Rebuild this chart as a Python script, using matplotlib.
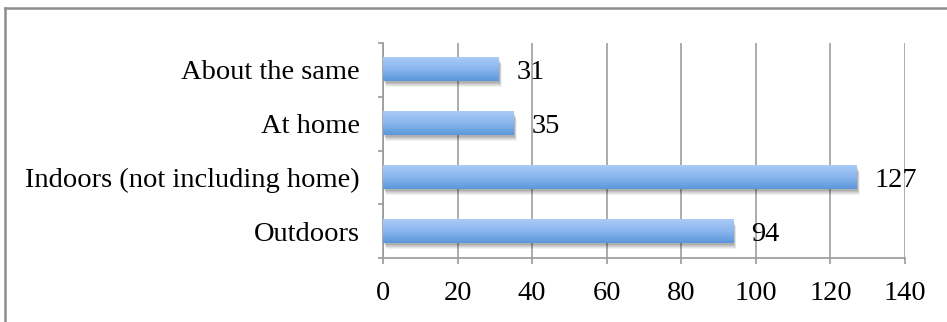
import numpy as np
import matplotlib
matplotlib.use("Agg")
from matplotlib import pyplot as plt
from matplotlib import transforms
from matplotlib.colors import LinearSegmentedColormap
from matplotlib.patches import Rectangle

# data (bottom to top)
categories = ["Outdoors", "Indoors (not including home)", "At home", "About the same"]
values = [94, 127, 35, 31]
xticks = [0, 20, 40, 60, 80, 100, 120, 140]

plt.rcParams['font.family'] = ['Liberation Serif']
FS = 20.5

W, H = 947, 322
fig = plt.figure(figsize=(W / 100, H / 100), dpi=100)
ax = fig.add_axes([383 / W, 1 - 258 / H, (905 - 383) / W, (258 - 43) / H])

bar_h = 0.43
ypos = np.arange(len(categories))
grad = LinearSegmentedColormap.from_list("barblue", ["#a9cbf6", "#8ab6ee", "#5b97da"])
gimg = np.linspace(0, 1, 64).reshape(-1, 1)

for y, v in zip(ypos, values):
    # soft shadow under the bar
    for k, a in [(6, 0.05), (5, 0.06), (4, 0.07), (3, 0.08), (2, 0.09)]:
        off = transforms.offset_copy(ax.transData, fig=fig, x=k * 0.5, y=-k, units='dots')
        ax.add_patch(Rectangle((0, y - bar_h / 2), v, bar_h, transform=off,
                               facecolor="black", alpha=a, edgecolor="none", zorder=2))
    ax.imshow(gimg, cmap=grad, aspect='auto', zorder=3,
              extent=[0, v, y - bar_h / 2, y + bar_h / 2], origin='upper')
    ax.text(v + 4.8, y, str(v), va='center_baseline', ha='left', fontsize=FS, zorder=4)

ax.set_xlim(0, 140)
ax.set_ylim(-0.5, len(categories) - 0.5)
ax.set_xticks(xticks)
ax.set_xticklabels([str(t) for t in xticks], fontsize=FS)
ax.set_yticks(ypos)
ax.set_yticklabels(categories, fontsize=FS, va='center_baseline')
ax.set_yticks(np.arange(-0.5, len(categories)), minor=True)
ax.tick_params(axis='y', which='major', length=0, pad=16.5)
ax.tick_params(axis='y', which='minor', length=3.6, color='#9a9a9a', width=1.2)
ax.tick_params(axis='x', length=4, color='#9a9a9a', width=1.2, pad=12.5)

ax.grid(axis='x', color='#a6a6a6', linewidth=1.3, zorder=0)
ax.set_axisbelow(True)
for s in ['top', 'right']:
    ax.spines[s].set_visible(False)
for s in ['left', 'bottom']:
    ax.spines[s].set_color('#9a9a9a')
    ax.spines[s].set_linewidth(1.2)

# outer chart border (extends off the image on right and bottom)
fig.add_artist(plt.Line2D([5 / W, 1.0], [1 - 8 / H, 1 - 8 / H], color='#8e8e8e', linewidth=1.8))
fig.add_artist(plt.Line2D([5 / W, 5 / W], [1 - 8 / H, 0.0], color='#8e8e8e', linewidth=1.8))

fig.savefig("out.png", dpi=100)
